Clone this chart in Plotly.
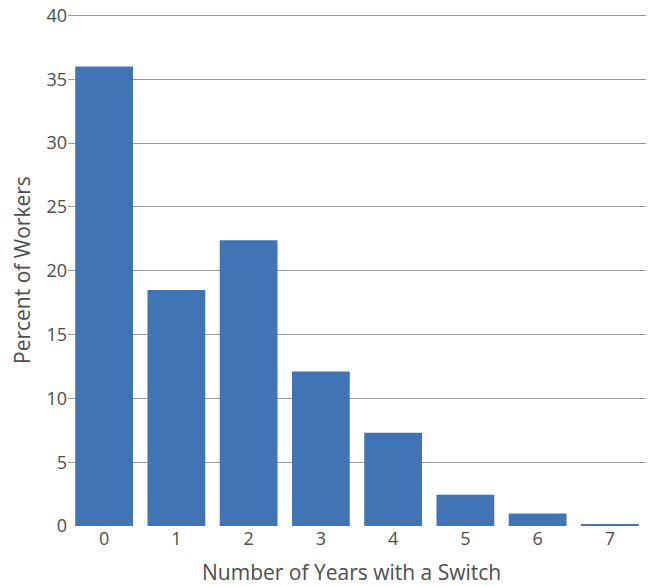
import plotly.graph_objects as go

categories = ["0", "1", "2", "3", "4", "5", "6", "7"]
percent_workers = [36.0, 18.5, 22.4, 12.1, 7.3, 2.45, 0.98, 0.12]
y_ticks = [0, 5, 10, 15, 20, 25, 30, 35, 40]

fig = go.Figure(go.Bar(
    x=categories, y=percent_workers,
    marker=dict(color="#4174B5", line=dict(width=0)),
))

font_family = "Open Sans, Noto Sans, sans-serif"
text_color = "#4D4D4D"
fig.update_layout(
    width=648, height=586,
    margin=dict(l=68, r=2, t=14, b=60, autoexpand=False),
    plot_bgcolor="white", paper_bgcolor="white",
    bargap=0.2,
    showlegend=False,
    font=dict(family=font_family, color=text_color, size=18),
    xaxis=dict(
        automargin=False,
        showgrid=False, zeroline=False, showline=False, ticks="",
        tickfont=dict(size=18, color=text_color),
        ticklabeloverflow="allow",
    ),
    yaxis=dict(
        automargin=False,
        range=[0, 40.12], tickvals=y_ticks,
        showgrid=True, gridcolor="#999999", gridwidth=1.4,
        zeroline=True, zerolinecolor="white", zerolinewidth=2,
        showline=False, ticks="",
        tickfont=dict(size=18, color=text_color),
        ticklabeloverflow="allow",
    ),
    annotations=[
        dict(text="Number of Years with a Switch", xref="paper", yref="paper",
             x=0.49, y=-46 / 512, xanchor="center", yanchor="middle",
             showarrow=False, font=dict(size=21, color=text_color)),
        dict(text="Percent of Workers", xref="paper", yref="paper",
             x=-46 / 578, y=0.5, xanchor="center", yanchor="middle", textangle=-90,
             showarrow=False, font=dict(size=21, color=text_color)),
    ],
)

fig.write_html("out.html", config={"displayModeBar": False},
               post_script="document.body.style.margin='0';")
